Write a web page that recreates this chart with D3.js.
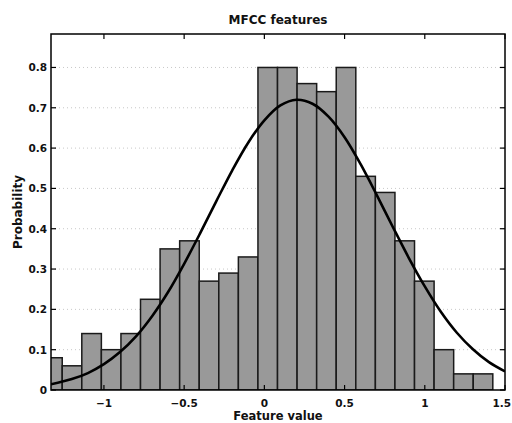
<!DOCTYPE html>
<html>
<head>
<meta charset="utf-8">
<script src="https://cdn.jsdelivr.net/npm/d3@7"></script>
<style>
  body { margin: 0; background: #fff; }
  text { font-family: "DejaVu Sans", sans-serif; font-weight: bold; fill: #111; }
</style>
</head>
<body>
<svg id="chart" width="512" height="423"></svg>
<script>
// histogram bins (centers) and probability heights
var binCenters = [-1.321, -1.199, -1.077, -0.955, -0.833, -0.711, -0.589, -0.467,
  -0.345, -0.223, -0.101, 0.021, 0.143, 0.265, 0.387, 0.509, 0.631, 0.753,
  0.875, 0.997, 1.119, 1.241, 1.363];
var binWidth = 0.122;
var binProb = [0.08, 0.06, 0.14, 0.10, 0.14, 0.225, 0.35, 0.37, 0.27, 0.29, 0.33,
  0.80, 0.80, 0.76, 0.74, 0.80, 0.53, 0.49, 0.37, 0.27, 0.10, 0.04, 0.04];

// fitted curve
var curveX = [-1.33, -1.2, -1.1, -1.0, -0.9, -0.8, -0.7, -0.6, -0.5, -0.4, -0.3,
  -0.2, -0.1, 0.0, 0.1, 0.2, 0.3, 0.4, 0.5, 0.6, 0.7, 0.8, 0.9, 1.0, 1.1, 1.2,
  1.3, 1.4, 1.5];
var curveY = [0.014, 0.027, 0.042, 0.064, 0.094, 0.133, 0.183, 0.243, 0.313,
  0.389, 0.468, 0.545, 0.614, 0.669, 0.706, 0.72, 0.71, 0.678, 0.627, 0.56,
  0.484, 0.405, 0.328, 0.257, 0.194, 0.142, 0.101, 0.069, 0.046];

var xTicks = [-1, -0.5, 0, 0.5, 1, 1.5];
var yTicks = [0, 0.1, 0.2, 0.3, 0.4, 0.5, 0.6, 0.7, 0.8];

var svg = d3.select("#chart");
var pLeft = 51, pRight = 505, pTop = 34, pBottom = 390;

var x = d3.scaleLinear().domain([-1.33, 1.5]).range([pLeft, pRight]);
var y = d3.scaleLinear().domain([0, 0.883]).range([pBottom, pTop]);

svg.append("defs").append("clipPath").attr("id", "plotclip")
  .append("rect")
  .attr("x", pLeft).attr("y", pTop)
  .attr("width", pRight - pLeft).attr("height", pBottom - pTop);

// dotted horizontal grid
svg.append("g")
  .selectAll("line")
  .data(yTicks.slice(1))
  .enter()
  .append("line")
  .attr("x1", pLeft).attr("x2", pRight)
  .attr("y1", function (d) { return y(d); })
  .attr("y2", function (d) { return y(d); })
  .attr("stroke", "#c8c8c8")
  .attr("stroke-width", 1)
  .attr("stroke-dasharray", "1,3");

var plot = svg.append("g").attr("clip-path", "url(#plotclip)");

plot.selectAll("rect.bar")
  .data(binProb)
  .enter()
  .append("rect")
  .attr("class", "bar")
  .attr("x", function (d, i) { return x(binCenters[i] - binWidth / 2); })
  .attr("width", function (d, i) { return x(binCenters[i] + binWidth / 2) - x(binCenters[i] - binWidth / 2); })
  .attr("y", function (d) { return y(d); })
  .attr("height", function (d) { return y(0) - y(d); })
  .attr("fill", "#999999")
  .attr("stroke", "#1a1a1a")
  .attr("stroke-width", 1.5);

var line = d3.line()
  .x(function (d, i) { return x(curveX[i]); })
  .y(function (d) { return y(d); })
  .curve(d3.curveCatmullRom);

plot.append("path")
  .datum(curveY)
  .attr("d", line)
  .attr("fill", "none")
  .attr("stroke", "#000")
  .attr("stroke-width", 2.6);

// axes box with inward ticks
var tickLen = 5;
var ax = svg.append("g");

ax.append("rect")
  .attr("x", pLeft).attr("y", pTop)
  .attr("width", pRight - pLeft).attr("height", pBottom - pTop)
  .attr("fill", "none")
  .attr("stroke", "#000")
  .attr("stroke-width", 1.5);

xTicks.forEach(function (t) {
  ax.append("line").attr("x1", x(t)).attr("x2", x(t))
    .attr("y1", pBottom).attr("y2", pBottom - tickLen)
    .attr("stroke", "#000").attr("stroke-width", 1.2);
  ax.append("line").attr("x1", x(t)).attr("x2", x(t))
    .attr("y1", pTop).attr("y2", pTop + tickLen)
    .attr("stroke", "#000").attr("stroke-width", 1.2);
});

yTicks.forEach(function (t) {
  ax.append("line").attr("x1", pLeft).attr("x2", pLeft + tickLen)
    .attr("y1", y(t)).attr("y2", y(t))
    .attr("stroke", "#000").attr("stroke-width", 1.2);
  ax.append("line").attr("x1", pRight).attr("x2", pRight - tickLen)
    .attr("y1", y(t)).attr("y2", y(t))
    .attr("stroke", "#000").attr("stroke-width", 1.2);
});

var fmt = d3.format("");

ax.selectAll("text.xt")
  .data(xTicks)
  .enter()
  .append("text")
  .attr("class", "xt")
  .attr("x", function (d) { return x(d); })
  .attr("y", 407)
  .attr("text-anchor", function (d) { return d === 1.5 ? "end" : "middle"; })
  .attr("dx", function (d) { return d === 1.5 ? 6 : 0; })
  .style("font-size", "10.5px")
  .text(function (d) { return fmt(d); });

ax.selectAll("text.yt")
  .data(yTicks)
  .enter()
  .append("text")
  .attr("class", "yt")
  .attr("x", 47)
  .attr("y", function (d) { return y(d) + 4; })
  .attr("text-anchor", "end")
  .style("font-size", "10.5px")
  .text(function (d) { return fmt(d); });

svg.append("text")
  .attr("x", (pLeft + pRight) / 2)
  .attr("y", 24)
  .attr("text-anchor", "middle")
  .style("font-size", "12px")
  .text("MFCC features");

svg.append("text")
  .attr("x", (pLeft + pRight) / 2)
  .attr("y", 420)
  .attr("text-anchor", "middle")
  .style("font-size", "11.5px")
  .text("Feature value");

svg.append("text")
  .attr("transform", "translate(22," + ((pTop + pBottom) / 2) + ") rotate(-90)")
  .attr("text-anchor", "middle")
  .style("font-size", "12px")
  .text("Probability");
</script>
</body>
</html>
